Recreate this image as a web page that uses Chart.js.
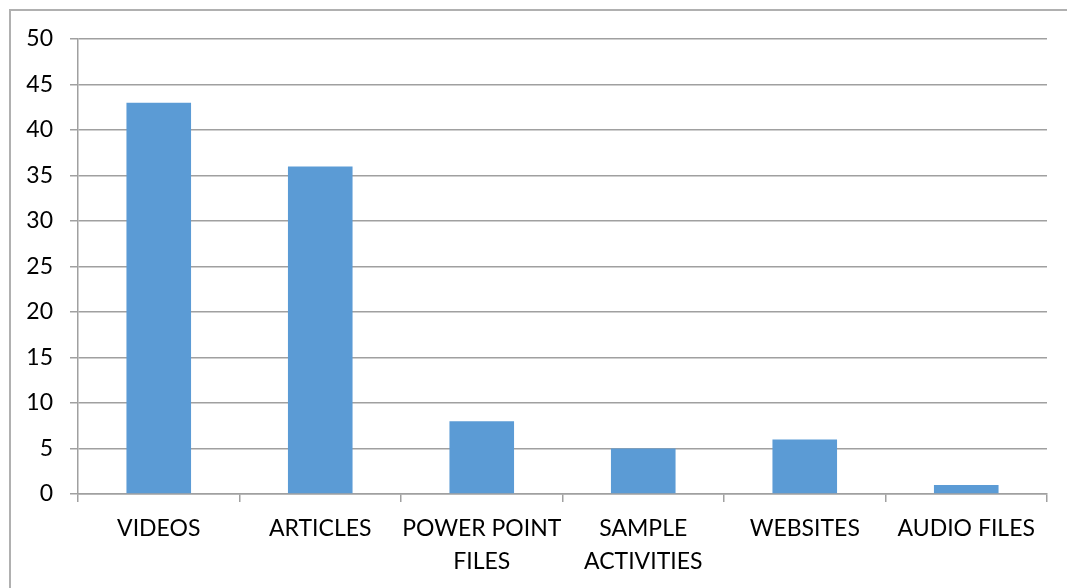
<!DOCTYPE html>
<html>
<head>
<meta charset="utf-8">
<script src="https://cdn.jsdelivr.net/npm/chart.js@4/dist/chart.umd.min.js"></script>
<style>
  html, body { margin: 0; padding: 0; background: #fff; }
  #wrap { position: relative; width: 1067px; height: 588px; overflow: hidden; }
  #frame { position: absolute; left: 9px; top: 9px; width: 1200px; height: 700px;
           border-top: 2px solid #b0b0b0; border-left: 2px solid #b0b0b0; box-sizing: border-box; }
  canvas { position: absolute; left: 0; top: 0; }
</style>
</head>
<body>
<div id="wrap">
  <div id="frame"></div>
  <canvas id="chart" width="1067" height="588"></canvas>
</div>
<script>
// Resource types and how many times each was named
const categories = ['VIDEOS', 'ARTICLES', ['POWER POINT', 'FILES'], ['SAMPLE', 'ACTIVITIES'], 'WEBSITES', 'AUDIO FILES'];
const counts = [43, 36, 8, 5, 6, 1];
const yTicks = [0, 5, 10, 15, 20, 25, 30, 35, 40, 45, 50];

const font = { family: 'Lato', size: 23, lineHeight: 1.43 };

new Chart(document.getElementById('chart'), {
  type: 'bar',
  data: {
    labels: categories,
    datasets: [{
      data: counts,
      backgroundColor: '#5B9BD5',
      borderWidth: 0,
      barPercentage: 0.4,
      categoryPercentage: 1.0
    }]
  },
  options: {
    responsive: false,
    animation: false,
    devicePixelRatio: 1,
    layout: { padding: { top: 39, right: 20, bottom: 0, left: 0 } },
    plugins: { legend: { display: false }, tooltip: { enabled: false } },
    scales: {
      x: {
        grid: { drawOnChartArea: false, drawTicks: true, tickLength: 8, color: '#a0a0a0', lineWidth: 1.5, offset: true },
        border: { color: '#a0a0a0', width: 1.5 },
        ticks: { color: '#000', font: font, padding: 10, maxRotation: 0, autoSkip: false },
        afterFit: s => { s.height = 94; }
      },
      y: {
        min: 0, max: 50,
        afterBuildTicks: s => { s.ticks = yTicks.map(v => ({ value: v })); },
        grid: { color: '#a0a0a0', lineWidth: 1.5, tickLength: 8 },
        border: { color: '#a0a0a0', width: 1.5 },
        ticks: { color: '#000', font: { family: 'Lato', size: 23 }, padding: 17 },
        afterFit: s => { s.width = 78; }
      }
    }
  }
});
</script>
</body>
</html>
